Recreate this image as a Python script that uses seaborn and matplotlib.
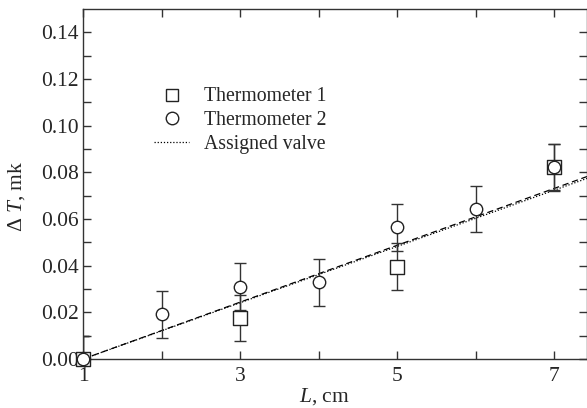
import numpy as np
import pandas as pd
import matplotlib
matplotlib.use('Agg')
import matplotlib.pyplot as plt
import seaborn as sns
from matplotlib.lines import Line2D

# dados
L_t1 = [1, 3, 5, 7]
dT_t1 = [0.0, 0.0176, 0.0396, 0.0822]
err_t1 = [0.01, 0.01, 0.01, 0.01]

L_t2 = [1, 2, 3, 4, 5, 6, 7]
dT_t2 = [0.0, 0.0192, 0.031, 0.0328, 0.0564, 0.0643, 0.0823]
err_t2 = [0.01, 0.01, 0.01, 0.01, 0.01, 0.01, 0.01]

L_linha = [1.0, 7.42]
dT_assigned = [0.0, 0.0774]
dT_fit = [0.0, 0.0782]

sns.set_style('ticks')
plt.rcParams['font.family'] = ['Liberation Serif', 'DejaVu Serif']
plt.rcParams['mathtext.fontset'] = 'custom'
plt.rcParams['mathtext.rm'] = 'Liberation Serif'
plt.rcParams['mathtext.it'] = 'Liberation Serif:italic'

fig = plt.figure(figsize=(5.87, 4.08), dpi=100)
ax = fig.add_axes([0.1414, 0.12, 0.8586, 0.858])

df_linha = pd.DataFrame({'L': L_linha, 'a': dT_assigned, 'f': dT_fit})
sns.lineplot(data=df_linha, x='L', y='f', ax=ax, color='black', lw=0.9,
             linestyle=(0, (5, 3)), zorder=2)
sns.lineplot(data=df_linha, x='L', y='a', ax=ax, color='black', lw=0.9,
             linestyle=(0, (1, 1.5)), zorder=2)

for xs, ys, es in [(L_t1, dT_t1, err_t1), (L_t2, dT_t2, err_t2)]:
    ax.errorbar(xs, ys, yerr=es, fmt='none', ecolor='#333333',
                elinewidth=1, capsize=4, capthick=1, zorder=3)

df1 = pd.DataFrame({'L': L_t1, 'dT': dT_t1})
df2 = pd.DataFrame({'L': L_t2, 'dT': dT_t2})
sns.scatterplot(data=df1, x='L', y='dT', ax=ax, marker='s', s=90,
                facecolor='white', edgecolor='#222222', linewidth=1,
                zorder=4, clip_on=False)
sns.scatterplot(data=df2, x='L', y='dT', ax=ax, marker='o', s=80,
                facecolor='white', edgecolor='#222222', linewidth=1,
                zorder=5, clip_on=False)

ax.set_xlim(1, 7.42)
ax.set_ylim(0, 0.15)
ax.set_xticks([1, 3, 5, 7])
ax.set_xticks([2, 4, 6], minor=True)
ax.set_yticks(np.arange(0, 0.141, 0.02))
ax.set_yticks(np.arange(0.01, 0.15, 0.02), minor=True)
ax.set_yticklabels(['%.2f' % v for v in np.arange(0, 0.141, 0.02)])

ax.tick_params(which='both', direction='in', top=True, right=True,
               labelsize=15.5, color='#333333', width=1)
ax.tick_params(axis='x', which='major', pad=6)
ax.tick_params(axis='y', which='major', pad=3)
ax.tick_params(which='major', length=6)
ax.tick_params(which='minor', length=6)
for s in ax.spines.values():
    s.set_color('#333333')
    s.set_linewidth(1)

ax.set_xlabel(r'$\mathit{L}$, cm', fontsize=15.5)
ax.set_ylabel(r'$\Delta$ $\mathit{T}$, mk', fontsize=15.5)
ax.xaxis.set_label_coords(0.479, -0.078)
ax.yaxis.set_label_coords(-0.112, 0.466)

# legenda feita à mão
h = [Line2D([], [], marker='s', ls='none', mfc='white', mec='#222222', ms=9),
     Line2D([], [], marker='o', ls='none', mfc='white', mec='#222222', ms=9),
     Line2D([], [], color='black', lw=0.9, ls=(0, (1, 1.5)))]
leg = ax.legend(h, ['Thermometer 1', 'Thermometer 2', 'Assigned valve'],
                loc='upper left', bbox_to_anchor=(0.121, 0.804), frameon=False,
                fontsize=14.2, handlelength=1.8, handletextpad=0.75,
                labelspacing=0.25, borderpad=0)

fig.savefig('out.png', dpi=100)
